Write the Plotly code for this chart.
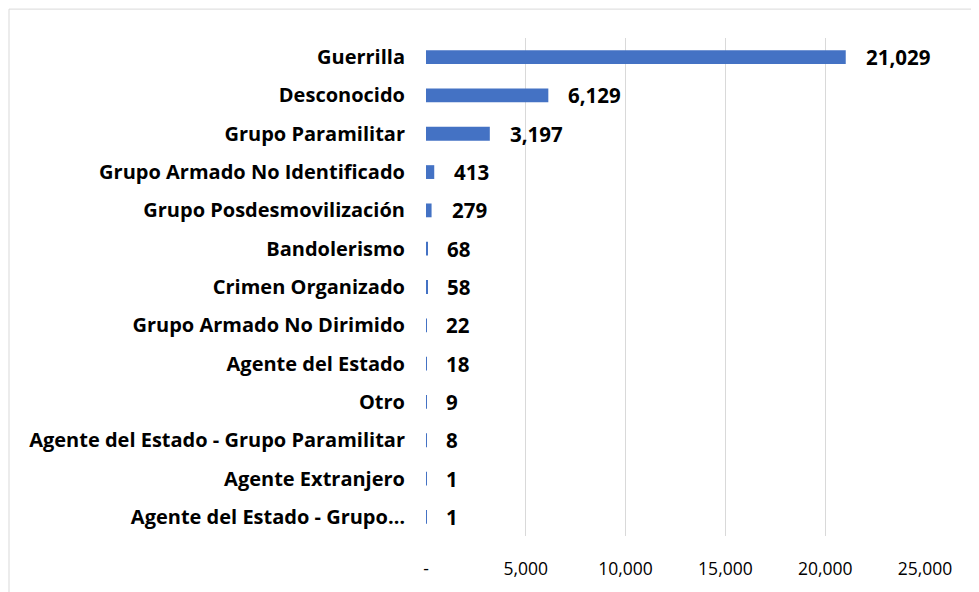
import plotly.graph_objects as go

categories = [
    "Guerrilla", "Desconocido", "Grupo Paramilitar", "Grupo Armado No Identificado",
    "Grupo Posdesmovilización", "Bandolerismo", "Crimen Organizado",
    "Grupo Armado No Dirimido", "Agente del Estado", "Otro",
    "Agente del Estado - Grupo Paramilitar", "Agente Extranjero",
    "Agente del Estado - Grupo…",
]
values = [21029, 6129, 3197, 413, 279, 68, 58, 22, 18, 9, 8, 1, 1]
tick_vals = [0, 5000, 10000, 15000, 20000, 25000]
tick_text = ["-", "5,000", "10,000", "15,000", "20,000", "25,000"]

FONT = "Open Sans"
W, H = 971, 584  # page adds 8px body margin
L, R, T, B = 418, 54, 30, 54
PW, PH = W - L - R, H - T - B

fig = go.Figure()
fig.add_trace(go.Bar(
    y=categories, x=values, orientation="h",
    marker=dict(color="#4472C4", line=dict(width=0)),
    width=0.36, hoverinfo="skip",
))
for c, v in zip(categories, values):
    fig.add_annotation(x=v, y=c, xref="x", yref="y", text=f"<b>{v:,}</b>",
                       showarrow=False, xanchor="left", xshift=18,
                       font=dict(family=FONT, size=20.5, color="#000000"))

fig.add_shape(type="rect", xref="paper", yref="paper",
              x0=(1 - L) / PW, x1=1.5, y0=-0.5, y1=1 + (T - 1) / PH,
              line=dict(color="#d9d9d9", width=1), layer="below")

fig.update_layout(
    width=W, height=H,
    margin=dict(l=L, r=R, t=T, b=B),
    paper_bgcolor="white", plot_bgcolor="white",
    showlegend=False,
    xaxis=dict(range=[0, 25000], tickvals=tick_vals, ticktext=tick_text,
               showgrid=True, gridcolor="#d9d9d9", gridwidth=1.3,
               zeroline=False, showline=False, ticks="",
               tickfont=dict(family=FONT, size=17.5, color="#000000"),
               ticklabelstandoff=20),
    yaxis=dict(categoryorder="array", categoryarray=categories[::-1],
               showgrid=False, zeroline=False, showline=False, ticks="",
               tickfont=dict(family=FONT, size=20, color="#000000"),
               ticklabelstandoff=20),
)
fig.update_yaxes(tickprefix="<b>", ticksuffix="</b>")
fig.write_html("out.html")
